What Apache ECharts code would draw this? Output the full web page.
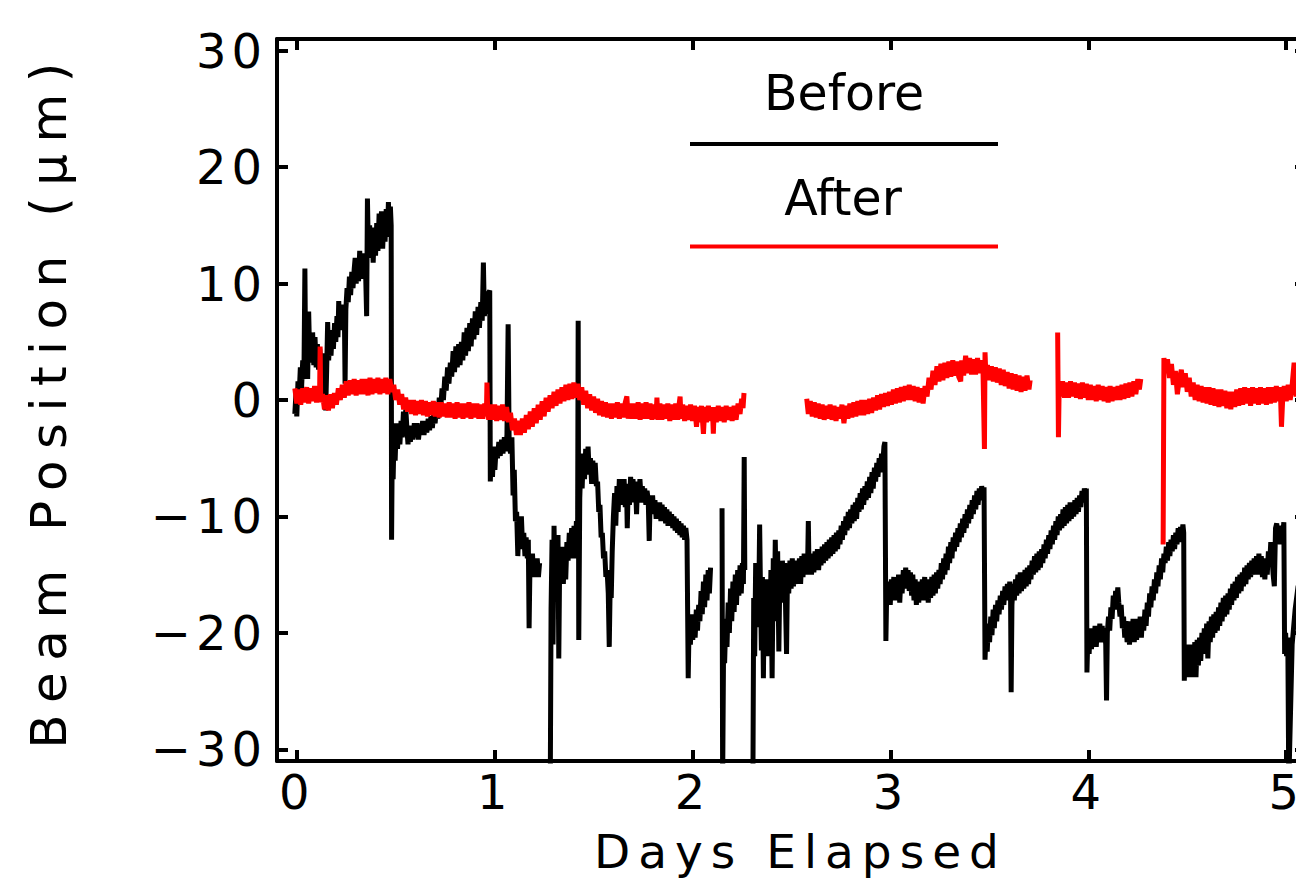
<!DOCTYPE html>
<html>
<head>
<meta charset="utf-8">
<script src="https://cdn.jsdelivr.net/npm/echarts@6/dist/echarts.min.js"></script>
<style>
  html, body { margin: 0; padding: 0; background: #fff; }
  #chart { width: 1296px; height: 884px; }
  /* wide, evenly spaced lettering for the axis text */
  #chart text { letter-spacing: 5px; }
  #chart text[style*="47px"] { letter-spacing: 8px; }
  #chart text[style*="50px"] { letter-spacing: 11.5px; }
  #chart text[style*="49px"] { letter-spacing: 0px; }
</style>
</head>
<body>
<div id="chart"></div>
<script>
// Tick labels
const dayTicks = [0, 1, 2, 3, 4, 5];
const positionTicks = [-30, -20, -10, 0, 10, 20, 30];

// Beam position before the fix: [days elapsed, position in µm]; '-' marks a data gap
const before = [
  [-0.01,-1.2],[-0.004,0.6],[0.0,-1.4],[0.006,1.6],[0.012,0.4],[0.018,2.8],[0.024,1.0],[0.03,3.4],[0.036,1.8],[0.041,11.3],[0.045,2.2],[0.05,5.2],[0.055,1.8],[0.06,7.6],[0.065,3.8],[0.07,5.6],[0.075,3.2],[0.08,5.8],[0.086,3.0],[0.092,5.4],[0.098,2.8],[0.104,4.8],[0.11,2.6],[0.116,4.4],[0.122,3.0],[0.128,4.0],[0.134,1.6],[0.14,3.0],[0.146,-0.9],[0.151,2.6],[0.156,6.7],[0.161,3.4],[0.167,5.6],[0.173,3.8],[0.179,6.0],[0.185,4.4],[0.191,6.6],[0.197,5.0],[0.203,7.2],[0.208,5.4],[0.212,8.5],[0.217,6.0],[0.223,7.8],[0.229,6.2],[0.235,8.2],[0.241,6.6],[0.244,1.4],[0.248,7.8],[0.254,9.6],[0.26,8.4],[0.266,10.6],[0.272,9.0],[0.278,11.0],[0.284,9.6],[0.29,11.2],[0.295,12.2],[0.3,10.0],[0.306,11.6],[0.312,10.2],[0.318,12.8],[0.324,10.6],[0.33,12.4],[0.336,10.4],[0.342,12.6],[0.348,10.8],[0.353,7.2],[0.357,17.3],[0.362,12.6],[0.368,15.0],[0.374,12.2],[0.38,14.6],[0.386,11.8],[0.392,14.8],[0.398,12.4],[0.404,15.2],[0.41,12.8],[0.416,16.0],[0.422,13.2],[0.428,16.2],[0.434,13.0],[0.44,15.6],[0.446,13.6],[0.452,16.4],[0.458,14.0],[0.463,17.0],[0.468,14.2],[0.473,16.6],[0.477,15.0],
  [0.479,-12.0],[0.483,-3.0],[0.487,-6.8],[0.492,-2.4],[0.497,-5.2],[0.503,-2.0],[0.509,-4.2],[0.515,-2.2],[0.521,-3.8],[0.527,-1.8],[0.533,-3.2],[0.539,-1.0],[0.545,-2.2],[0.551,-0.8],[0.557,-2.6],[0.562,-3.8],[0.568,-2.4],[0.574,-3.6],[0.58,-2.2],[0.587,-3.4],[0.594,-2.0],[0.601,-3.2],[0.608,-2.0],[0.615,-3.4],[0.622,-2.2],[0.629,-3.0],[0.636,-1.8],[0.643,-3.0],[0.65,-1.8],[0.657,-2.8],[0.664,-1.6],[0.671,-2.6],[0.678,-1.4],[0.685,-2.4],[0.692,-1.2],[0.699,-2.0],[0.706,-0.6],[0.713,-1.6],[0.72,0.2],[0.727,-0.8],[0.734,1.0],[0.741,0.0],[0.748,2.0],[0.755,0.8],[0.762,2.8],[0.769,1.4],[0.776,3.2],[0.783,2.0],[0.79,4.2],[0.797,2.4],[0.804,4.6],[0.811,2.8],[0.818,4.8],[0.825,3.0],[0.832,5.0],[0.839,3.4],[0.846,5.8],[0.853,3.8],[0.86,6.2],[0.867,4.2],[0.874,6.6],[0.881,4.6],[0.888,7.0],[0.895,5.2],[0.902,7.6],[0.909,5.6],[0.916,8.0],[0.923,6.2],[0.93,8.4],[0.937,6.8],[0.943,11.8],[0.948,7.2],[0.955,8.8],[0.962,7.4],[0.969,9.2],[0.975,9.4],
  [0.978,-7.0],[0.983,-4.4],[0.989,-6.6],[0.995,-4.0],[1.001,-6.0],[1.007,-4.2],[1.014,-5.0],[1.021,-3.6],[1.028,-4.8],[1.035,-3.4],[1.042,-4.6],[1.049,-3.2],[1.056,-4.4],[1.062,-3.0],[1.068,6.5],[1.073,-3.4],[1.08,-4.6],[1.087,-3.2],[1.093,-8.2],[1.099,-6.0],[1.105,-10.4],[1.111,-9.6],[1.117,-13.4],[1.123,-10.6],[1.129,-12.8],[1.135,-10.0],[1.141,-12.6],[1.147,-11.4],[1.153,-13.4],[1.159,-11.8],[1.165,-13.6],[1.17,-12.0],[1.174,-19.6],[1.179,-13.4],[1.185,-14.8],[1.191,-13.2],[1.197,-15.2],[1.203,-13.6],[1.209,-15.0],[1.215,-13.6],[1.221,-15.2],[1.227,-14.0],
  [1.25,'-'],
  [1.281,-33],[1.285,-18.0],[1.29,-12.0],[1.295,-21.0],[1.3,-10.8],[1.305,-17.0],[1.31,-12.4],[1.315,-16.0],[1.32,-11.6],[1.324,-22.2],[1.329,-13.0],[1.335,-15.6],[1.341,-12.6],[1.347,-15.8],[1.353,-12.8],[1.359,-15.4],[1.365,-12.2],[1.371,-13.8],[1.377,-11.4],[1.383,-13.6],[1.389,-11.0],[1.395,-13.2],[1.401,-10.8],[1.407,-13.6],[1.413,-10.4],[1.419,-12.4],[1.422,6.8],[1.425,-20.6],[1.43,-8.4],[1.436,-5.2],[1.442,-7.6],[1.448,-4.6],[1.454,-6.8],[1.46,-4.2],[1.466,-6.0],[1.472,-4.0],[1.478,-6.4],[1.484,-5.0],[1.49,-7.2],[1.496,-5.2],[1.502,-7.0],[1.508,-5.4],[1.514,-7.4],[1.52,-7.0],[1.526,-9.6],[1.532,-9.0],[1.538,-11.8],[1.544,-11.4],[1.55,-13.6],[1.556,-13.0],[1.562,-15.2],[1.568,-14.6],[1.574,-16.6],[1.579,-21.2],[1.584,-15.6],[1.589,-17.0],[1.594,-13.0],[1.6,-10.0],[1.606,-8.0],[1.612,-10.8],[1.618,-7.4],[1.624,-9.6],[1.63,-6.8],[1.636,-9.0],[1.642,-7.0],[1.648,-8.6],[1.654,-6.8],[1.66,-9.2],[1.666,-7.2],[1.67,-11.0],[1.675,-7.4],[1.681,-9.0],[1.687,-6.6],[1.693,-8.8],[1.699,-6.8],[1.705,-8.4],[1.711,-7.0],[1.717,-9.8],[1.722,-7.2],[1.728,-8.8],[1.734,-6.8],[1.74,-8.4],[1.746,-7.4],[1.752,-8.8],[1.758,-7.6],[1.764,-9.0],[1.77,-7.8],[1.776,-8.6],[1.781,-12.1],[1.786,-8.4],[1.792,-9.8],[1.798,-8.2],[1.804,-9.8],[1.81,-8.6],[1.816,-10.2],[1.822,-8.8],[1.828,-10.0],[1.834,-8.8],[1.84,-10.4],[1.846,-9.0],[1.852,-10.2],[1.858,-9.2],[1.864,-10.6],[1.87,-9.4],[1.876,-10.8],[1.882,-9.6],[1.888,-10.8],[1.894,-9.8],[1.9,-11.0],[1.906,-10.0],[1.912,-11.2],[1.918,-10.2],[1.924,-11.4],[1.93,-10.4],[1.936,-11.6],[1.942,-10.6],[1.948,-11.8],[1.954,-10.8],[1.96,-12.0],[1.966,-11.0],[1.972,-12.0],
  [1.978,-23.9],[1.983,-18.8],[1.989,-21.0],[1.995,-18.4],[2.001,-20.6],[2.007,-18.6],[2.013,-20.4],[2.019,-18.0],[2.025,-19.8],[2.031,-17.6],[2.037,-19.0],[2.043,-16.4],[2.049,-18.4],[2.055,-15.6],[2.061,-17.8],[2.067,-15.0],[2.073,-17.2],[2.079,-14.6],[2.085,-16.6],[2.091,-14.4],
  [2.12,'-'],
  [2.149,-9.3],[2.152,-33],[2.157,-20.6],[2.162,-22.6],[2.168,-18.8],[2.174,-21.2],[2.18,-17.4],[2.186,-20.0],[2.192,-16.2],[2.198,-19.0],[2.204,-15.6],[2.21,-18.2],[2.216,-15.0],[2.222,-17.6],[2.228,-14.6],[2.234,-16.8],[2.24,-14.2],[2.246,-16.6],[2.252,-14.0],[2.257,-15.8],[2.261,-4.9],[2.264,-14.6],
  [2.285,'-'],
  [2.305,-33],[2.309,-17.0],[2.314,-22.0],[2.319,-14.0],[2.324,-19.5],[2.329,-15.0],[2.334,-18.0],[2.339,-10.7],[2.343,-16.0],[2.348,-21.5],[2.353,-15.2],[2.358,-23.9],[2.363,-16.0],[2.368,-20.0],[2.373,-15.4],[2.378,-22.0],[2.384,-16.0],[2.39,-20.5],[2.396,-14.6],[2.402,-23.9],[2.408,-13.6],[2.413,-19.0],[2.418,-12.0],[2.424,-18.0],[2.43,-13.0],[2.436,-21.6],[2.442,-14.0],[2.448,-17.4],[2.454,-13.8],[2.46,-16.8],[2.466,-14.0],[2.471,-18.6],[2.475,-21.8],[2.48,-14.4],[2.486,-16.6],[2.492,-13.8],[2.498,-16.2],[2.504,-13.6],[2.51,-16.0],[2.516,-14.0],[2.522,-15.8],[2.528,-13.8],[2.534,-15.6],[2.54,-13.6],[2.546,-15.8],[2.552,-13.4],[2.558,-15.2],[2.564,-13.2],[2.57,-15.0],[2.576,-13.4],[2.581,-14.6],[2.585,-10.4],[2.589,-15.0],[2.595,-13.4],[2.601,-15.0],[2.607,-13.2],[2.613,-14.8],[2.619,-13.0],[2.625,-14.6],[2.631,-12.8],[2.637,-14.6],[2.643,-12.8],[2.649,-14.2],[2.655,-12.6],[2.661,-14.0],[2.667,-12.4],[2.673,-13.8],[2.679,-12.2],[2.685,-13.6],[2.691,-12.0],[2.697,-13.4],[2.703,-11.8],[2.709,-13.2],[2.715,-11.6],[2.721,-13.0],[2.727,-11.4],[2.733,-12.8],[2.739,-11.2],[2.745,-12.4],[2.751,-10.8],[2.757,-12.0],[2.763,-10.4],[2.769,-11.6],[2.775,-10.0],[2.781,-11.2],[2.787,-9.6],[2.793,-11.0],[2.799,-9.4],[2.805,-10.6],[2.811,-9.0],[2.817,-10.4],[2.823,-8.8],[2.829,-10.2],[2.835,-8.4],[2.841,-9.6],[2.847,-8.0],[2.853,-9.4],[2.859,-7.6],[2.865,-9.0],[2.871,-7.4],[2.877,-8.6],[2.883,-7.0],[2.889,-8.4],[2.895,-6.6],[2.901,-8.0],[2.907,-6.2],[2.913,-7.6],[2.919,-5.8],[2.925,-7.0],[2.931,-5.4],[2.937,-6.6],[2.943,-5.0],[2.949,-6.2],[2.955,-4.6],[2.961,-5.6],[2.967,-4.0],[2.972,-3.6],
  [2.977,-20.7],[2.982,-15.6],[2.988,-17.4],[2.993,-15.6],[2.999,-17.6],[3.005,-15.4],[3.011,-17.0],[3.017,-15.2],[3.023,-17.2],[3.029,-15.4],[3.035,-16.8],[3.041,-15.0],[3.047,-17.4],[3.053,-15.2],[3.059,-16.6],[3.065,-14.6],[3.071,-16.2],[3.077,-14.4],[3.083,-16.0],[3.089,-14.6],[3.095,-16.4],[3.101,-14.8],[3.107,-16.8],[3.113,-15.0],[3.119,-17.2],[3.125,-15.4],[3.131,-17.6],[3.137,-15.6],[3.143,-17.4],[3.149,-15.6],[3.155,-17.2],[3.161,-15.4],[3.167,-17.0],[3.173,-15.2],[3.179,-17.2],[3.185,-15.4],[3.191,-17.4],[3.197,-15.6],[3.203,-17.0],[3.209,-15.2],[3.215,-16.8],[3.221,-15.0],[3.227,-16.6],[3.233,-14.8],[3.239,-16.2],[3.245,-14.6],[3.251,-15.8],[3.257,-14.0],[3.263,-15.4],[3.269,-13.6],[3.275,-15.0],[3.281,-13.2],[3.287,-14.6],[3.293,-12.6],[3.299,-14.0],[3.305,-12.2],[3.311,-13.6],[3.317,-11.8],[3.323,-13.0],[3.329,-11.4],[3.335,-12.6],[3.341,-11.0],[3.347,-12.2],[3.353,-10.6],[3.359,-11.8],[3.365,-10.2],[3.371,-11.4],[3.377,-9.8],[3.383,-11.0],[3.389,-9.4],[3.395,-10.6],[3.401,-9.0],[3.407,-10.2],[3.413,-8.6],[3.419,-9.8],[3.425,-8.2],[3.431,-9.4],[3.437,-7.8],[3.443,-9.0],[3.449,-7.6],[3.455,-8.6],[3.461,-7.4],[3.467,-8.2],[3.473,-7.5],
  [3.478,-22.3],[3.483,-19.8],[3.489,-21.6],[3.495,-19.2],[3.501,-20.8],[3.507,-18.6],[3.513,-20.2],[3.519,-18.0],[3.525,-19.6],[3.531,-17.6],[3.537,-19.0],[3.543,-17.2],[3.549,-18.4],[3.555,-16.8],[3.561,-18.0],[3.567,-16.4],[3.573,-17.6],[3.579,-16.0],[3.585,-17.2],[3.591,-15.8],[3.597,-17.0],[3.603,-15.6],[3.607,-16.8],[3.61,-25.1],[3.614,-17.6],[3.62,-15.8],[3.626,-17.2],[3.632,-15.4],[3.638,-16.8],[3.644,-15.0],[3.65,-16.6],[3.656,-14.8],[3.662,-16.4],[3.668,-14.8],[3.674,-16.2],[3.68,-14.6],[3.686,-16.0],[3.692,-14.4],[3.698,-15.8],[3.704,-14.2],[3.71,-15.4],[3.716,-13.8],[3.722,-15.0],[3.728,-13.4],[3.734,-14.8],[3.74,-13.2],[3.746,-14.6],[3.752,-13.0],[3.758,-14.4],[3.764,-12.8],[3.77,-14.0],[3.776,-12.4],[3.782,-13.6],[3.788,-12.0],[3.794,-13.2],[3.8,-11.6],[3.806,-12.8],[3.812,-11.2],[3.818,-12.4],[3.824,-10.8],[3.83,-12.0],[3.836,-10.4],[3.842,-11.6],[3.848,-10.0],[3.854,-11.2],[3.86,-9.8],[3.866,-11.0],[3.872,-9.4],[3.878,-10.8],[3.884,-9.2],[3.89,-10.6],[3.896,-9.0],[3.902,-10.4],[3.908,-8.8],[3.914,-10.2],[3.92,-8.8],[3.926,-10.0],[3.932,-8.6],[3.938,-9.8],[3.944,-8.4],[3.95,-9.6],[3.956,-8.2],[3.962,-9.2],[3.968,-7.8],[3.974,-8.8],[3.98,-7.6],[3.986,-8.2],[3.99,-7.6],
  [3.993,-23.4],[3.998,-20.0],[4.004,-21.8],[4.01,-19.6],[4.016,-21.4],[4.022,-19.8],[4.028,-21.0],[4.034,-19.4],[4.04,-21.2],[4.046,-19.6],[4.052,-20.8],[4.058,-19.2],[4.064,-20.6],[4.07,-19.4],[4.076,-20.8],[4.082,-19.6],[4.088,-21.0],[4.092,-25.8],[4.096,-20.0],[4.102,-18.6],[4.108,-19.8],[4.114,-17.8],[4.12,-18.8],[4.126,-16.8],[4.132,-18.0],[4.138,-16.4],[4.144,-17.2],[4.149,-16.1],[4.154,-17.4],[4.16,-18.6],[4.166,-17.6],[4.172,-19.6],[4.178,-18.6],[4.184,-20.4],[4.19,-19.0],[4.196,-20.8],[4.202,-19.2],[4.208,-21.0],[4.214,-19.0],[4.22,-20.6],[4.226,-18.8],[4.232,-20.8],[4.238,-19.0],[4.244,-20.6],[4.25,-18.8],[4.256,-20.2],[4.262,-18.6],[4.268,-20.4],[4.274,-18.6],[4.28,-19.8],[4.286,-18.0],[4.292,-19.4],[4.298,-17.4],[4.304,-18.6],[4.31,-16.6],[4.316,-17.8],[4.322,-16.0],[4.328,-17.2],[4.334,-15.4],[4.34,-16.6],[4.346,-14.8],[4.352,-16.0],[4.358,-14.2],[4.364,-15.4],[4.37,-13.6],[4.376,-14.8],[4.382,-13.2],[4.388,-14.0],[4.394,-12.6],[4.4,-13.8],[4.406,-12.2],[4.412,-13.4],[4.418,-12.0],[4.424,-13.0],[4.43,-11.6],[4.436,-12.8],[4.442,-11.4],[4.448,-12.4],[4.454,-11.0],[4.46,-12.2],[4.466,-10.9],[4.472,-11.6],[4.478,-10.7],[4.482,-11.4],
  [4.485,-24.1],[4.49,-21.2],[4.496,-23.8],[4.502,-21.0],[4.508,-23.6],[4.514,-21.4],[4.52,-23.8],[4.526,-21.0],[4.532,-23.4],[4.538,-20.8],[4.544,-23.8],[4.55,-20.6],[4.556,-22.8],[4.562,-20.4],[4.568,-22.4],[4.574,-20.0],[4.58,-21.8],[4.586,-19.6],[4.592,-21.6],[4.598,-19.2],[4.604,-22.2],[4.61,-19.0],[4.616,-20.8],[4.622,-18.6],[4.628,-20.4],[4.634,-18.4],[4.64,-20.0],[4.646,-18.2],[4.652,-19.8],[4.658,-17.8],[4.664,-19.4],[4.67,-17.4],[4.676,-19.0],[4.682,-17.0],[4.688,-18.6],[4.694,-16.8],[4.7,-18.4],[4.706,-16.6],[4.712,-18.0],[4.718,-16.2],[4.724,-17.6],[4.73,-15.8],[4.736,-17.2],[4.742,-15.6],[4.748,-17.0],[4.754,-15.2],[4.76,-16.6],[4.766,-15.0],[4.772,-16.4],[4.778,-14.8],[4.784,-16.0],[4.79,-14.4],[4.796,-15.8],[4.802,-14.2],[4.808,-15.4],[4.814,-14.0],[4.82,-15.2],[4.826,-13.8],[4.832,-15.0],[4.838,-13.6],[4.844,-15.0],[4.85,-13.4],[4.856,-14.8],[4.862,-13.2],[4.868,-15.0],[4.874,-13.4],[4.88,-15.2],[4.886,-13.6],[4.892,-15.4],[4.898,-13.6],[4.904,-15.0],[4.91,-13.0],[4.916,-14.2],[4.922,-12.2],[4.928,-13.4],[4.934,-15.0],[4.94,-16.0],[4.946,-11.0],[4.952,-10.6],[4.958,-12.0],[4.964,-11.0],[4.97,-12.4],[4.976,-10.8],[4.982,-11.6],[4.988,-10.5],
  [4.992,-21.8],[4.997,-20.0],[5.002,-22.0],[5.008,-20.4],[5.013,-33],[5.03,-21.0],[5.045,-18.0],[5.06,-16.0],[5.1,-15.0]
];

// Beam position after the fix
const after = [
  [-0.01,1.0],[0.0,-0.3],[0.01,0.9],[0.02,-0.4],[0.03,1.0],[0.04,-0.2],[0.05,1.1],[0.06,-0.3],[0.07,1.0],[0.08,-0.1],[0.09,1.2],[0.1,-0.2],[0.11,1.1],[0.115,0.2],[0.118,4.6],[0.121,-0.2],[0.13,0.5],[0.14,-0.8],[0.15,0.4],[0.16,-0.9],[0.17,0.5],[0.18,-0.7],[0.19,0.6],[0.2,-0.4],[0.21,1.0],[0.22,0.0],[0.23,1.3],[0.24,0.2],[0.25,1.6],[0.26,0.4],[0.27,1.7],[0.28,0.5],[0.29,1.8],[0.3,0.4],[0.31,1.7],[0.32,0.5],[0.33,1.8],[0.34,0.5],[0.35,1.8],[0.36,0.4],[0.37,1.9],[0.38,0.5],[0.39,1.8],[0.4,0.6],[0.41,1.9],[0.42,0.5],[0.43,1.8],[0.44,0.6],[0.45,1.9],[0.46,0.5],[0.47,1.8],[0.48,0.7],[0.49,1.3],[0.5,0.0],[0.51,0.9],[0.52,-0.4],[0.53,0.5],[0.54,-0.8],[0.55,0.2],[0.56,-1.0],[0.57,0.0],[0.58,-1.2],[0.59,0.0],[0.6,-1.3],[0.61,-0.1],[0.62,-1.2],[0.63,0.0],[0.64,-1.3],[0.65,-0.1],[0.66,-1.4],[0.67,-0.2],[0.68,-1.3],[0.69,-0.1],[0.7,-1.4],[0.71,-0.2],[0.72,-1.5],[0.73,-0.2],[0.74,-1.4],[0.75,-0.3],[0.76,-1.5],[0.77,-0.2],[0.78,-1.5],[0.79,-0.3],[0.8,-1.6],[0.81,-0.2],[0.82,-1.5],[0.83,-0.3],[0.84,-1.6],[0.85,-0.3],[0.86,-1.5],[0.87,-0.2],[0.88,-1.6],[0.89,-0.3],[0.9,-1.5],[0.91,-0.3],[0.92,-1.6],[0.93,-0.4],[0.94,-1.6],[0.95,-0.3],[0.958,-1.4],[0.961,1.5],[0.965,-1.0],[0.97,-1.7],[0.98,-0.4],[0.99,-1.7],[1.0,-0.4],[1.01,-1.8],[1.02,-0.5],[1.03,-1.7],[1.04,-0.4],[1.05,-1.8],[1.06,-0.6],[1.07,-1.9],[1.08,-1.1],[1.09,-2.6],[1.1,-1.6],[1.11,-3.0],[1.12,-1.8],[1.13,-3.0],[1.14,-1.6],[1.15,-2.8],[1.16,-1.3],[1.17,-2.5],[1.18,-1.0],[1.19,-2.3],[1.2,-0.7],[1.21,-2.0],[1.22,-0.4],[1.23,-1.7],[1.24,-0.1],[1.25,-1.4],[1.26,0.2],[1.27,-1.0],[1.28,0.4],[1.29,-0.7],[1.3,0.7],[1.31,-0.5],[1.32,0.9],[1.33,-0.3],[1.34,1.1],[1.35,-0.1],[1.36,1.3],[1.37,0.0],[1.38,1.4],[1.39,0.1],[1.4,1.5],[1.41,0.2],[1.42,1.4],[1.43,0.0],[1.44,1.1],[1.45,-0.4],[1.46,0.8],[1.47,-0.7],[1.48,0.5],[1.49,-0.9],[1.5,0.3],[1.51,-1.1],[1.52,0.1],[1.53,-1.3],[1.54,-0.1],[1.55,-1.4],[1.56,-0.2],[1.57,-1.5],[1.58,-0.3],[1.59,-1.6],[1.6,-0.3],[1.61,-1.5],[1.62,-0.2],[1.63,-1.6],[1.64,-0.3],[1.65,-1.5],[1.66,-0.2],[1.668,0.3],[1.675,-1.6],[1.685,-0.3],[1.695,-1.6],[1.705,-0.3],[1.715,-1.6],[1.725,-0.2],[1.735,-1.7],[1.745,-0.3],[1.755,-1.6],[1.765,-0.2],[1.775,-1.6],[1.785,-0.3],[1.795,-1.7],[1.805,-0.4],[1.815,-1.6],[1.82,0.2],[1.825,-1.7],[1.835,-0.3],[1.845,-1.7],[1.855,-0.4],[1.865,-1.6],[1.875,-0.3],[1.885,-1.8],[1.895,-0.4],[1.905,-1.7],[1.915,-0.3],[1.925,-1.7],[1.932,-0.4],[1.937,0.3],[1.942,-1.6],[1.95,-0.4],[1.96,-1.8],[1.97,-0.5],[1.98,-1.7],[1.99,-0.4],[2.0,-1.8],[2.01,-0.5],[2.02,-2.3],[2.027,-0.6],[2.035,-1.9],[2.045,-0.5],[2.055,-2.9],[2.062,-0.6],[2.07,-1.9],[2.08,-0.5],[2.09,-1.8],[2.1,-0.6],[2.105,-2.9],[2.11,-0.6],[2.12,-1.9],[2.13,-0.5],[2.14,-1.8],[2.15,-0.6],[2.16,-1.9],[2.17,-0.5],[2.18,-1.7],[2.19,-0.6],[2.2,-1.8],[2.21,-0.5],[2.22,-1.7],[2.23,-0.3],[2.24,-1.2],[2.248,0.1],[2.255,-0.7],[2.26,0.6],
  [2.4,'-'],
  [2.577,0.1],[2.585,-1.2],[2.595,-0.1],[2.605,-1.4],[2.615,-0.2],[2.625,-1.5],[2.635,-0.3],[2.645,-1.6],[2.655,-0.4],[2.665,-1.7],[2.675,-0.5],[2.685,-1.6],[2.695,-0.4],[2.705,-1.7],[2.715,-0.5],[2.725,-1.8],[2.735,-0.6],[2.745,-1.6],[2.755,-0.4],[2.765,-2.0],[2.775,-0.5],[2.785,-1.6],[2.795,-0.3],[2.805,-1.5],[2.815,-0.2],[2.825,-1.4],[2.835,-0.1],[2.845,-1.3],[2.855,0.0],[2.865,-1.3],[2.875,0.0],[2.885,-1.2],[2.895,0.1],[2.905,-1.1],[2.915,0.2],[2.925,-0.9],[2.935,0.4],[2.945,-0.8],[2.955,0.5],[2.965,-0.6],[2.975,0.6],[2.985,-0.5],[2.995,0.7],[3.005,-0.4],[3.015,0.9],[3.025,-0.3],[3.035,1.0],[3.045,-0.2],[3.055,1.1],[3.065,-0.1],[3.075,1.2],[3.085,0.0],[3.095,1.3],[3.105,0.0],[3.115,1.2],[3.125,-0.1],[3.135,1.1],[3.145,-0.2],[3.155,1.0],[3.165,-0.3],[3.175,1.2],[3.185,0.3],[3.195,1.9],[3.205,0.9],[3.215,2.5],[3.225,1.3],[3.235,2.9],[3.245,1.6],[3.255,3.1],[3.265,1.7],[3.275,3.2],[3.285,1.9],[3.295,3.3],[3.305,2.0],[3.315,3.4],[3.325,2.1],[3.335,3.3],[3.345,2.0],[3.355,1.6],[3.36,3.4],[3.37,2.1],[3.38,3.8],[3.39,2.3],[3.4,3.6],[3.41,2.2],[3.42,3.5],[3.43,2.2],[3.44,3.6],[3.45,2.3],[3.46,3.4],[3.468,2.3],[3.475,-4.2],[3.478,4.1],[3.483,1.8],[3.49,3.0],[3.5,1.7],[3.51,2.9],[3.52,1.6],[3.53,2.8],[3.54,1.5],[3.55,2.7],[3.56,1.3],[3.57,2.6],[3.58,1.2],[3.59,2.4],[3.6,1.0],[3.61,2.3],[3.62,0.9],[3.63,2.2],[3.64,0.8],[3.65,2.1],[3.66,0.7],[3.67,2.0],[3.68,0.8],[3.69,2.1],[3.7,0.9],[3.706,1.7],
  [3.77,'-'],
  [3.845,5.8],[3.849,-3.2],[3.853,1.5],[3.86,0.3],[3.87,1.6],[3.88,0.2],[3.89,1.5],[3.9,0.2],[3.91,1.6],[3.92,0.3],[3.93,1.5],[3.94,0.2],[3.95,1.4],[3.96,0.1],[3.97,1.5],[3.98,0.2],[3.99,1.4],[4.0,0.0],[4.01,1.3],[4.02,0.0],[4.03,1.2],[4.04,-0.1],[4.05,1.3],[4.06,0.0],[4.07,1.2],[4.08,-0.1],[4.09,1.1],[4.1,-0.2],[4.11,1.2],[4.12,-0.1],[4.13,1.1],[4.14,0.0],[4.15,1.2],[4.16,0.0],[4.17,1.3],[4.18,0.1],[4.19,1.4],[4.2,0.2],[4.21,1.5],[4.22,0.3],[4.23,1.6],[4.24,0.5],[4.25,1.8],[4.258,0.9],[4.265,1.8],
  [4.32,'-'],
  [4.378,-12.4],[4.382,3.6],[4.39,2.3],[4.4,3.5],[4.41,1.9],[4.42,3.1],[4.43,1.3],[4.44,2.5],[4.45,0.5],[4.46,1.8],[4.47,2.6],[4.48,1.1],[4.49,2.3],[4.5,0.7],[4.51,1.9],[4.52,0.3],[4.53,1.5],[4.54,0.0],[4.55,1.3],[4.56,-0.1],[4.57,1.2],[4.58,-0.2],[4.59,1.1],[4.6,-0.3],[4.61,1.1],[4.62,-0.4],[4.63,1.0],[4.64,-0.5],[4.65,0.9],[4.66,-0.6],[4.67,0.9],[4.68,-0.5],[4.69,0.8],[4.7,-0.7],[4.71,0.7],[4.72,-0.8],[4.73,0.7],[4.74,-0.6],[4.75,0.9],[4.76,-0.5],[4.77,1.0],[4.78,-0.4],[4.79,1.1],[4.8,-0.3],[4.81,1.0],[4.82,-0.5],[4.83,1.1],[4.84,-0.3],[4.85,1.0],[4.86,-0.4],[4.87,1.1],[4.88,-0.3],[4.89,1.0],[4.9,-0.4],[4.91,1.1],[4.92,-0.3],[4.93,1.1],[4.94,-0.2],[4.95,1.2],[4.96,-0.1],[4.97,1.1],[4.976,-2.3],[4.982,0.0],[4.99,1.2],[5.0,-0.1],[5.01,1.3],[5.02,0.0],[5.03,1.3],[5.04,3.2],[5.05,0.3],[5.06,1.5]
];

const FONT = 'DejaVu Sans';
const INK = '#000000';
const RED = '#ff0000';

const chart = echarts.init(document.getElementById('chart'), null, { renderer: 'svg' });

const frameLine = { onZero: false, lineStyle: { color: INK, width: 4 } };
const frameTick = { inside: true, length: 11, lineStyle: { color: INK, width: 4 } };

chart.setOption({
  animation: false,
  backgroundColor: '#ffffff',
  // the frame runs a little past the right edge of the page
  grid: { left: 277, top: 39, width: 1029, height: 722, containLabel: false, outerBoundsMode: 'none' },
  xAxis: [
    {
      type: 'value', min: -0.1, max: 5.1, position: 'bottom',
      name: 'Days Elapsed', nameLocation: 'middle', nameGap: 67,
      nameTextStyle: { fontSize: 47, fontFamily: FONT, color: INK, padding: [0, 0, 0, 18] },
      axisLine: frameLine, axisTick: frameTick, splitLine: { show: false },
      axisLabel: {
        margin: 7, fontSize: 48, fontFamily: FONT, color: INK,
        showMinLabel: false, showMaxLabel: false,
        formatter: v => dayTicks.includes(v) ? String(v) : ''
      }
    },
    {
      type: 'value', min: -0.1, max: 5.1, position: 'top',
      axisLine: frameLine, axisTick: frameTick, splitLine: { show: false },
      axisLabel: { show: false }
    }
  ],
  yAxis: [
    {
      type: 'value', min: -31, max: 31, position: 'left',
      name: 'Beam Position (\u03bcm)', nameLocation: 'middle', nameGap: 203,
      nameTextStyle: { fontSize: 50, fontFamily: FONT, color: INK },
      axisLine: frameLine, axisTick: frameTick, splitLine: { show: false },
      axisLabel: {
        margin: 10, fontSize: 48, fontFamily: FONT, color: INK,
        showMinLabel: false, showMaxLabel: false,
        formatter: v => positionTicks.includes(v) ? String(v).replace('-', '\u2212') : ''
      }
    },
    {
      type: 'value', min: -31, max: 31, position: 'right',
      axisLine: frameLine, axisTick: frameTick, splitLine: { show: false },
      axisLabel: { show: false }
    }
  ],
  series: [
    {
      name: 'Before', type: 'line', data: before,
      symbol: 'none', showSymbol: false, connectNulls: false, clip: true,
      lineStyle: { color: INK, width: 5 }, itemStyle: { color: INK }
    },
    {
      name: 'After', type: 'line', data: after,
      symbol: 'none', showSymbol: false, connectNulls: false, clip: true,
      lineStyle: { color: RED, width: 5 }, itemStyle: { color: RED }
    }
  ],
  graphic: {
    elements: [
      {
        type: 'text', x: 844, y: 93,
        style: { text: 'Before', fontSize: 49, fontFamily: FONT, fill: INK,
                 align: 'center', verticalAlign: 'middle', textAlign: 'center', textVerticalAlign: 'middle' }
      },
      { type: 'line', shape: { x1: 690, y1: 144, x2: 998, y2: 144 }, style: { stroke: INK, lineWidth: 4 } },
      {
        type: 'text', x: 843, y: 198,
        style: { text: 'After', fontSize: 49, fontFamily: FONT, fill: INK,
                 align: 'center', verticalAlign: 'middle', textAlign: 'center', textVerticalAlign: 'middle' }
      },
      { type: 'line', shape: { x1: 690, y1: 246.5, x2: 998, y2: 246.5 }, style: { stroke: RED, lineWidth: 4 } }
    ]
  }
});
</script>
</body>
</html>
